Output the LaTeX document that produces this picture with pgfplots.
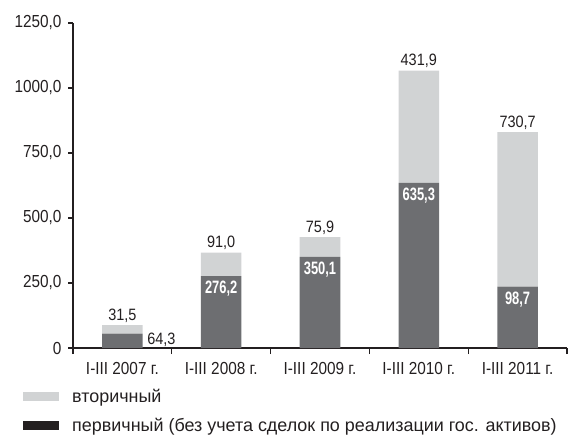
\documentclass[border=0pt]{standalone}
\usepackage{fontspec}
\setmainfont{Liberation Sans}
\newfontfamily\cond{Liberation Sans}[FakeStretch=0.88]
\newfontfamily\condb{Liberation Sans}[FakeStretch=0.72]
\usepackage{pgfplots}
\usepackage{pgfplotstable}
\pgfplotsset{compat=1.18}

\definecolor{lightbar}{HTML}{D1D3D4}
\definecolor{darkbar}{HTML}{6D6E71}
\definecolor{ink}{HTML}{231F20}

\tikzset{
  dlab/.style={anchor=north,inner sep=0pt,text=white,
    font=\condb\bfseries\fontsize{18}{18}\selectfont,yshift=-5bp},
  llab/.style={anchor=base,inner sep=0pt,text=ink,
    font=\cond\fontsize{16.5}{16.5}\selectfont,yshift=5bp}}

% heights as drawn
\pgfplotstableread{
x dark  light
0 55    33
1 276.2 91.0
2 350.1 75.9
3 635.3 431.9
4 236   594
}\shares

\begin{document}
\begin{tikzpicture}
\path[use as bounding box] (0,0) rectangle (574bp,-441bp);
\begin{axis}[at={(73bp,-348bp)},anchor=south west,
  scale only axis,width=494bp,height=325bp,
  xmin=-0.5,xmax=4.5,ymin=0,ymax=1250,
  axis x line*=bottom,axis y line*=left,
  axis line style={ink,line width=1.3bp},
  ybar stacked,bar width=0.41,
  xtick={0,...,4},
  xticklabels={I-III 2007 г.,I-III 2008 г.,I-III 2009 г.,I-III 2010 г.,I-III 2011 г.},
  major x tick style={draw=none},
  minor xtick={-0.5,0.5,...,4.5},
  ytick={0,250,...,1250},
  yticklabels={0,{250,0},{500,0},{750,0},{1000,0},{1250,0}},
  tick align=outside,
  tick style={ink,line width=1.1bp},
  major tick length=5bp,minor tick length=6bp,
  ticklabel style={font=\cond\fontsize{17.5}{17.5}\selectfont,text=ink},
  xticklabel style={yshift=-6bp},
  yticklabel style={xshift=-3bp},
  clip=false]
\addplot[fill=darkbar,draw=none] table[x=x,y=dark] {\shares};
\addplot[fill=lightbar,draw=none] table[x=x,y=light] {\shares};
\coordinate (l0) at (axis cs:0,88);
\coordinate (l1) at (axis cs:1,367.2);
\coordinate (l2) at (axis cs:2,426);
\coordinate (l3) at (axis cs:3,1067.2);
\coordinate (l4) at (axis cs:4,830);
\coordinate (d1) at (axis cs:1,276.2);
\coordinate (d2) at (axis cs:2,350.1);
\coordinate (d3) at (axis cs:3,635.3);
\coordinate (d4) at (axis cs:4,236);
\coordinate (d0) at (axis cs:0.25,12);
\end{axis}
% printed values
\node[llab] at (l0) {31,5};
\node[llab] at (l1) {91,0};
\node[llab] at (l2) {75,9};
\node[llab] at (l3) {431,9};
\node[llab] at (l4) {730,7};
\node[dlab] at (d1) {276,2};
\node[dlab] at (d2) {350,1};
\node[dlab] at (d3) {635,3};
\node[dlab] at (d4) {98,7};
\node[anchor=base west,inner sep=0pt,text=ink,
  font=\cond\fontsize{16.5}{16.5}\selectfont] at (d0) {64,3};
% legend
\fill[lightbar] (23bp,-392bp) rectangle (59bp,-401bp);
\fill[ink] (23bp,-421bp) rectangle (59bp,-430bp);
\node[anchor=base west,inner sep=0pt,text=ink,font=\fontsize{18}{18}\selectfont]
  at (72bp,-402bp) {вторичный};
\node[anchor=base west,inner sep=0pt,text=ink,font=\fontsize{18}{18}\selectfont]
  at (72bp,-431bp) {первичный (без учета сделок по реализации гос. активов)};
\end{tikzpicture}
\end{document}
